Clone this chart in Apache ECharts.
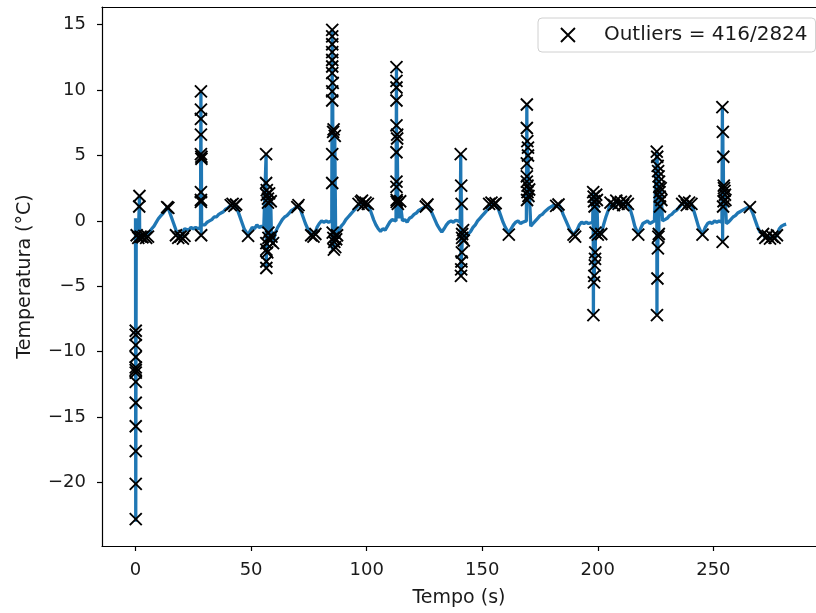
<!DOCTYPE html>
<html>
<head>
<meta charset="utf-8">
<script src="https://cdn.jsdelivr.net/npm/echarts@6/dist/echarts.min.js"></script>
<style>
html,body{margin:0;padding:0;background:#fff;}
#chart{width:816px;height:613px;}
</style>
</head>
<body>
<div id="chart"></div>
<script>
// ---- Data ----
var xTicks = [0, 50, 100, 150, 200, 250];
var yTicks = [-20, -15, -10, -5, 0, 5, 10, 15];

// Temperature trace: time (s)
var timeS = [
 0, 0.1, 0.2, 0.3, 0.6, 1.2, 1.6, 1.7, 1.8, 2.2, 3, 4, 5, 6, 7, 8, 9, 10, 11, 12, 13, 13.7, 14.5, 15.5, 16.5, 17.5, 18.5, 19.7, 20.5, 21.2, 22, 23, 24, 25, 26, 27, 28.1,
 28.2, 28.3, 28.4, 28.5, 28.6, 29, 30, 31, 32, 33, 34, 35, 36, 37, 38, 39, 40, 41, 42, 43, 44, 45, 46, 47, 48, 48.7, 49.5, 50.5, 51.5, 52.5, 53.5, 54.5, 55.5, 56.3,
 56.4, 56.5, 56.6, 56.8, 57.0, 57.3, 57.5, 57.8, 58.2, 58.5, 58.8, 59.5, 60.5, 61.5, 62.5, 63.5, 64.5, 65.5, 66.5, 67.5, 68.5, 69.5, 70.5, 71.5, 72.5, 73.5, 74.5, 75.5, 76.5, 77.5, 78.5, 79.5, 80.5, 81.5, 82.5, 83.5, 84.9,
 85.0, 85.1, 85.2, 85.3, 85.5, 85.7, 85.9, 86.2, 86.6, 87.2, 88, 89, 90, 91, 92, 93, 94, 95, 96, 97, 98, 99, 100, 101, 102, 103, 104, 105, 106, 107, 108, 109, 110, 111, 112.7,
 112.8, 112.9, 113.0, 113.2, 113.5, 114, 114.5, 115.5, 116.5, 117.5, 118.5, 119.5, 120.5, 121.5, 122.5, 123.5, 124.5, 125.6, 126.5, 127.5, 128.5, 129.5, 130.5, 131.5, 132.5, 133.5, 134.5, 135.5, 136.5, 137.5, 138.5, 139.5, 140.5,
 140.6, 140.7, 140.8, 140.9, 141.0, 141.1, 141.2, 141.3, 141.7, 142.0, 143, 144, 145, 146, 147, 148, 149, 150, 151, 152, 153, 154, 155, 155.8, 157, 158, 159, 160, 161.5, 162.5, 163.5, 164.5, 165.5, 166.5, 167.5, 169.1,
 169.2, 169.3, 169.4, 169.5, 169.6, 169.8, 170.0, 170.3, 171, 172, 173, 174, 175, 176, 177, 178, 179, 180, 181, 182, 183, 184, 185, 186, 187, 188, 189.5, 190.2, 191, 192, 193, 194, 195, 196, 197.8,
 197.9, 198.0, 198.1, 198.2, 198.3, 198.4, 198.5, 198.6, 198.7, 198.8, 198.9, 199.0, 199.3, 199.6, 200, 201.5, 202.5, 203.5, 204.5, 205.5, 206.5, 207, 208, 209, 210, 211, 212, 213, 214, 215, 216, 217.5, 218.5, 219.5, 220.5, 221.5, 222.5, 223.5, 224.5, 225.3,
 225.4, 225.5, 225.6, 225.7, 225.8, 225.9, 226.0, 226.1, 226.2, 226.3, 226.4, 226.5, 226.6, 226.7, 226.8, 226.9, 227.2, 227.5, 228, 229, 230, 231, 232, 233, 234, 235, 236, 236.5, 237.5, 238.5, 239.5, 240.5, 241.5, 242.5, 243.5, 244.5, 245.3, 246.5, 247.5, 248.5, 249.5, 250.5, 251.5, 252.5, 253.7,
 253.8, 253.9, 254.0, 254.1, 254.2, 254.3, 254.4, 254.5, 254.6, 254.8, 255.0, 255.2, 255.6, 256.5, 257.5, 258.5, 259.5, 260.5, 261.5, 262.5, 263.5, 264.5, 265.8, 267, 268, 269, 270, 271.5, 272.5, 273.5, 274.5, 275.5, 276.5, 277.5, 278.5, 279.5, 280.5, 281.5
];
// Temperature trace: value (°C)
var tempC = [
 0.2, -23.0, -11.5, -1.2, -1.1, -1.3, 1.1, 1.9, -1.0, -1.2, -1.25, -1.15, -1.2, -0.9, -0.6, -0.4, -0.1, 0.2, 0.4, 0.6, 0.85, 1.05, 0.8, 0.3, -0.2, -0.7, -1.1, -1.25, -0.9, -0.6, -0.5, -0.7, -0.5, -0.6, -0.5, -0.6, -0.5,
 -0.4, 9.9, -1.1, 4.9, -0.3, -0.2, -0.3, -0.1, 0.0, 0.1, 0.3, 0.3, 0.5, 0.6, 0.7, 0.9, 1.0, 1.15, 1.25, 1.2, 0.9, 0.4, -0.1, -0.6, -0.9, -1.15, -0.8, -0.5, -0.6, -0.3, -0.5, -0.4, -0.5, -0.4,
 -0.4, 5.1, -3.6, 2.35, -2.4, 1.7, -1.0, 2.1, -1.5, 1.5, -1.2, -1.7, -0.9, -0.5, -0.2, 0.1, 0.3, 0.4, 0.6, 0.8, 0.9, 1.05, 1.2, 0.8, 0.3, -0.2, -0.6, -0.9, -1.15, -1.0, -0.5, -0.2, 0.0, -0.1, 0.0, -0.1, 0.0,
 -0.1, 14.6, -2.2, 10.5, -1.6, 7.0, -2.0, 6.5, -1.4, -1.1, -0.7, -0.4, -0.2, 0.1, 0.3, 0.5, 0.7, 0.9, 1.1, 1.3, 1.4, 1.35, 1.25, 1.1, 0.6, 0.1, -0.3, -0.6, -0.8, -0.6, -0.7, -0.4, -0.1, 0.1, 0.0,
 0.0, 11.75, 1.45, 6.6, 1.3, 0.2, 1.5, 0.0, 0.1, -0.1, 0.2, 0.3, 0.5, 0.6, 0.8, 0.9, 1.0, 1.1, 1.25, 0.9, 0.5, 0.1, -0.3, -0.6, -0.85, -0.6, -0.3, -0.1, 0.0, -0.1, 0.05, 0.0, -0.1,
 -0.1, 5.1, -4.2, 2.7, -3.7, 1.3, -2.4, -1.3, -0.9, -1.5, -1.2, -1.0, -0.8, -0.5, -0.3, 0.0, 0.2, 0.4, 0.6, 0.8, 1.0, 1.3, 1.4, 1.35, 0.9, 0.4, -0.1, -0.5, -0.95, -0.6, -0.3, -0.1, 0.0, -0.2, -0.1, 0.0,
 0.0, 8.9, 1.6, 6.1, 2.2, 5.0, 1.9, 2.4, -0.4, -0.2, 0.0, 0.2, 0.4, 0.5, 0.7, 0.85, 1.0, 1.1, 1.2, 1.15, 1.25, 1.0, 0.5, 0.1, -0.3, -0.7, -1.05, -1.2, -0.7, -0.3, -0.1, -0.2, -0.1, -0.2, -0.1,
 -0.1, 2.2, -7.2, 1.85, -4.7, 1.5, -4.2, 1.1, -3.4, -2.9, -2.4, -0.9, 2.0, 1.6, -1.05, -1.0, -0.3, 0.3, 0.8, 1.4, 1.0, 1.2, 1.55, 1.3, 1.45, 1.2, 1.5, 1.3, 0.9, 0.3, -0.4, -1.05, -0.6, -0.2, -0.1, 0.0, -0.2, -0.1, 0.0, -0.1,
 -0.1, 5.3, -7.2, 4.9, -4.4, 4.2, -2.1, 3.8, -1.2, 3.4, -1.0, 3.0, 2.6, 2.2, 1.85, 1.1, 2.5, 1.6, 0.0, 0.1, 0.2, 0.4, 0.5, 0.7, 0.8, 1.0, 1.2, 1.3, 1.5, 1.2, 1.4, 1.3, 0.8, 0.2, -0.4, -0.8, -1.05, -0.5, -0.2, -0.1, -0.2, 0.0, -0.1, 0.0, -0.1,
 -0.1, 8.7, -1.6, 6.8, 1.1, 4.9, 1.5, 2.7, 2.5, 2.3, 2.0, 1.6, -0.2, -0.1, 0.1, 0.3, 0.4, 0.6, 0.7, 0.8, 0.9, 1.0, 1.05, 0.6, 0.1, -0.4, -0.8, -1.0, -1.3, -1.15, -1.35, -1.2, -1.3, -1.1, -0.6, -0.4, -0.3, -0.25
];

// Outlier markers: time (s)
var outX = [
 0.1,0.1,0.1,0.1,0.1,0.1,0.1,0.1,0.1,0.1,0.1,0.1,0.1, 1.7,1.6, 0.5,1.2,2.2,3,3.8,4.6,5.4,
 13.7,14.2, 17.5,18.5,19.5,20.5,21.2,
 28.3,28.3,28.3,28.3,28.3,28.5,28.5,28.3,28.3,28.3,28.4,
 41.2,42,42.8,43.5, 48.7,
 56.5,56.5,56.8,56.8,57.3,57.3,57.5,57.5,56.6,56.6,57.0,56.6,56.6, 57.8,58.2,58.5,58.8,59.5,
 70,70.5, 76,77,77.8,
 85.1,85.1,85.1,85.1,85.1,85.1,85.1,85.3,85.1,85.1,85.7,85.5,86.2,85.1,85.1, 85.3,85.6,86,86.4,86.8,85.8,87.2,
 96.5,97.5,98.5,99.5,100.5,98,
 112.9,112.9,112.9,112.9,112.9,113.2,113.2,112.9,112.9,112.9,113.0,113.0, 113.5,114.5,
 125.6,126.3,
 140.7,140.9,141.1,141.7,141.3,141.3,141.2,141.0,140.9,140.8, 142.0,
 153,154,155,155.8, 161.5,
 169.3,169.3,169.5,169.8,169.8,169.3,169.3,169.3,169.6,169.6,169.4, 170.3,170.0,
 182,183, 189.5,190.2,
 198.0,198.2,198.4,198.6,199.0,198.9,198.8,198.7,198.5,198.3,198.1, 200,201.5,199.6,199.3,
 205.5,207,208,209,210,211,212,213, 217.5,
 225.5,225.7,225.9,226.1,226.3,226.5,226.6,226.7,226.8,226.9,226.2,226.0,225.8,225.6, 227.2,227.5,226.4,
 236.5,237.5,238.5,239.5,240.5, 245.3,
 253.9,254.1,254.3,254.5,254.8,255.0,255.2,254.2,254.0, 254.6,254.4,
 265.8, 271.5,272.5,273.5,274.5,275.5,276.5,277.5
];
// Outlier markers: value (°C)
var outY = [
 -8.4,-8.7,-9.5,-10.4,-11.2,-11.4,-11.6,-12.3,-13.9,-15.7,-17.6,-20.1,-22.8, 1.9,1.1, -1.1,-1.3,-1.2,-1.25,-1.15,-1.3,-1.2,
 1.05,1.0, -1.1,-1.3,-1.2,-1.35,-1.15,
 9.9,8.5,7.8,6.6,5.1,4.75,4.9,2.2,1.6,1.45,-1.1,
 1.2,1.3,1.15,1.25, -1.15,
 5.1,2.9,2.35,2.0,1.7,1.4,-0.9,-1.3,-1.7,-2.2,-2.4,-3.1,-3.6, 2.1,-1.5,1.5,-1.2,-1.7,
 1.05,1.2, -1.1,-1.2,-1.0,
 14.6,14.1,13.5,12.9,12.3,11.8,11.3,10.55,9.9,9.2,7.0,6.8,6.5,5.1,2.9, -0.9,-1.3,-1.6,-2.0,-1.4,-2.2,-1.1,
 1.3,1.45,1.2,1.4,1.3,1.55,
 11.75,10.7,10.2,9.2,7.3,6.6,6.3,5.25,3.0,2.6,1.6,1.45, 1.3,1.5,
 1.1,1.25,
 5.1,2.7,1.3,-0.7,-1.0,-1.3,-2.4,-3.1,-3.7,-4.2, -1.5,
 1.3,1.4,1.25,1.35, -1.05,
 8.9,7.1,6.1,5.6,5.0,4.4,3.4,3.0,2.7,2.2,1.6, 2.4,1.9,
 1.15,1.25, -1.05,-1.2,
 2.2,1.85,1.5,1.1,-0.9,-2.4,-2.9,-3.4,-4.2,-4.7,-7.2, -1.05,-1.0,1.6,2.0,
 1.4,1.2,1.55,1.3,1.45,1.2,1.5,1.3, -1.05,
 5.3,4.9,4.2,3.8,3.4,3.0,2.6,2.2,1.85,1.1,-1.2,-2.1,-4.4,-7.2, 2.5,1.6,-1.0,
 1.3,1.5,1.2,1.4,1.3, -1.05,
 8.7,6.8,4.9,2.7,2.3,2.0,1.6,1.1,-1.6, 2.5,1.5,
 1.05, -1.0,-1.3,-1.15,-1.35,-1.2,-1.3,-1.1
];

var legendText = 'Outliers = 416/2824';
var xName = 'Tempo (s)';
var yName = 'Temperatura (°C)';

// ---- Build ----
var lineData = timeS.map(function (t, i) { return [t, tempC[i]]; });
var outData = outX.map(function (t, i) { return [t, outY[i]]; });
var X_PATH = 'path://M0,0L10,10M10,0L0,10';
var FONT = 'DejaVu Sans';
function fmt(v) { return v < 0 ? '\u2212' + Math.abs(v) : String(v); }

var chart = echarts.init(document.getElementById('chart'), null, { renderer: 'canvas' });
chart.setOption({
  animation: false,
  backgroundColor: '#fff',
  textStyle: { fontFamily: FONT },
  grid: { left: 102, top: 7, right: -10, bottom: 66, containLabel: false },
  legend: {
    left: 538, top: 18,
    padding: [7, 8, 7, 22],
    borderColor: '#d0d0d0', borderWidth: 1, borderRadius: 4,
    backgroundColor: 'rgba(255,255,255,0.85)',
    itemWidth: 14, itemHeight: 14,
    textStyle: { fontFamily: FONT, fontSize: 20, color: '#1a1a1a', padding: [0, 0, 0, 24] },
    data: [{ name: legendText, icon: X_PATH, itemStyle: { color: 'rgba(0,0,0,0)', borderColor: '#000', borderWidth: 1.9 } }]
  },
  xAxis: [{
    type: 'value', min: -14.5, max: 294.4, position: 'bottom',
    name: xName, nameLocation: 'middle', nameGap: 43,
    nameTextStyle: { fontFamily: FONT, fontSize: 19, color: '#1a1a1a' },
    axisLine: { show: true, onZero: false, lineStyle: { color: '#000', width: 1.2 } },
    axisTick: { show: true, inside: false, length: 5, customValues: xTicks, lineStyle: { color: '#000', width: 1.2 } },
    axisLabel: { show: true, margin: 15, fontFamily: FONT, fontSize: 18, color: '#1a1a1a', customValues: xTicks, formatter: fmt },
    splitLine: { show: false }
  }, {
    type: 'value', min: -14.5, max: 294.4, position: 'top',
    axisLine: { show: true, onZero: false, lineStyle: { color: '#000', width: 1.2 } },
    axisTick: { show: false }, axisLabel: { show: false }, splitLine: { show: false }
  }],
  yAxis: {
    type: 'value', min: -24.85, max: 16.35,
    name: yName, nameLocation: 'middle', nameGap: 67, nameRotate: 90,
    nameTextStyle: { fontFamily: FONT, fontSize: 19, color: '#1a1a1a' },
    axisLine: { show: true, onZero: false, lineStyle: { color: '#000', width: 1.2 } },
    axisTick: { show: true, inside: false, length: 5, customValues: yTicks, lineStyle: { color: '#000', width: 1.2 } },
    axisLabel: { show: true, margin: 16, fontFamily: FONT, fontSize: 18, color: '#1a1a1a', customValues: yTicks, formatter: fmt },
    splitLine: { show: false }
  },
  series: [{
    name: 'Temperatura',
    type: 'line',
    data: lineData,
    showSymbol: false,
    symbol: 'none',
    lineStyle: { color: '#1f77b4', width: 3.3 },
    itemStyle: { color: '#1f77b4' },
    silent: true,
    z: 2
  }, {
    name: legendText,
    type: 'scatter',
    data: outData,
    symbol: X_PATH,
    symbolSize: 12,
    itemStyle: { color: 'rgba(0,0,0,0)', borderColor: '#000', borderWidth: 1.9, opacity: 1 },
    silent: true,
    z: 3
  }]
});
</script>
</body>
</html>
